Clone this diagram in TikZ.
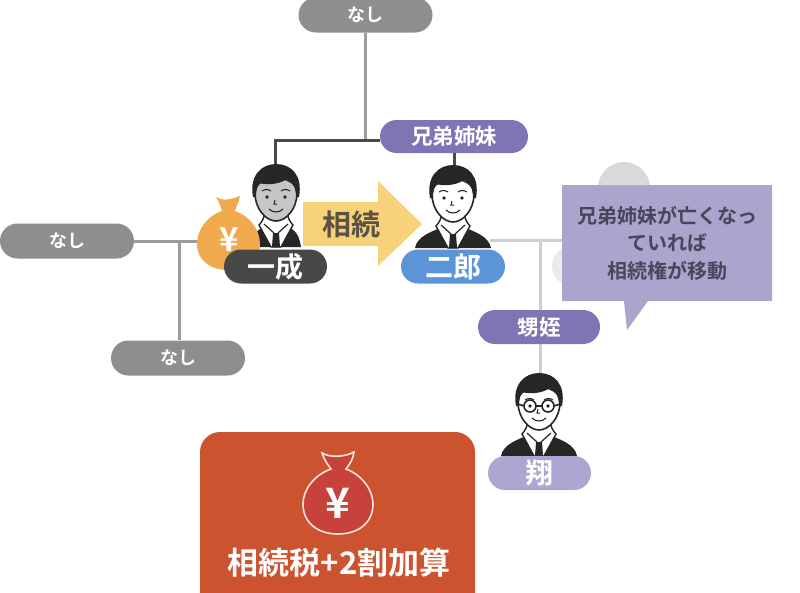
\documentclass[tikz,border=0pt]{standalone}
\usepackage{fontspec}
\setmainfont{Noto Sans CJK JP}[BoldFont={* Bold}]
\usetikzlibrary{shapes.misc}
\definecolor{pillgray}{HTML}{8E8E8E}
\definecolor{pilldark}{HTML}{484848}
\definecolor{pillblue}{HTML}{5B95D8}
\definecolor{pillpurple}{HTML}{7F75B4}
\definecolor{pilllilac}{HTML}{ABA6D2}
\definecolor{calloutfill}{HTML}{ABA4CD}
\definecolor{calloutink}{HTML}{47465C}
\definecolor{arrowyellow}{HTML}{F8D27B}
\definecolor{arrowink}{HTML}{5A5344}
\definecolor{bagorange}{HTML}{F0A94C}
\definecolor{boxred}{HTML}{CC5330}
\definecolor{bagred}{HTML}{C8413A}
\definecolor{bagline}{HTML}{FBE6DC}
\definecolor{linedark}{HTML}{4A4A4A}
\definecolor{linegray}{HTML}{9C9C9C}
\definecolor{linepale}{HTML}{CFCFCF}
\definecolor{hairink}{HTML}{262626}
\definecolor{faceshade}{HTML}{C6C6C6}
\newcommand{\fsz}[1]{\fontsize{#1}{#1}\selectfont}
\tikzset{
  x=1pt,y=-1pt,
  pill/.style={rounded rectangle,inner sep=0pt,text=white,font=\bfseries\fsz{#1}},
  pill/.default=18,
  plainpill/.style={pill=18,minimum height=35pt,minimum width=134pt,fill=pillgray},
  wire/.style={line width=3pt,draw=linegray},
  wirepale/.style={line width=3pt,draw=linepale},
  wiredark/.style={line width=3pt,draw=linedark},
  person/.pic={
    % body
    \fill[hairink] (-\pgfkeysvalueof{/tikz/bodyw},0) .. controls (-\pgfkeysvalueof{/tikz/bodyw}+2,-12) and (-20,-17) .. (-10,-21)
      -- (10,-21) .. controls (20,-17) and (\pgfkeysvalueof{/tikz/bodyw}-2,-12) .. (\pgfkeysvalueof{/tikz/bodyw},0) -- cycle;
    % collar and neck
    \fill[white,draw=hairink,line width=1.4pt] (-11,-37) .. controls (-11,-30) and (-14,-25) .. (-17,-22) -- (-5,0) -- (5,0) -- (17,-22) .. controls (14,-25) and (11,-30) .. (11,-37) -- cycle;
    \fill[hairink] (-3,-14) -- (3,-14) -- (4,0) -- (-4,0) -- cycle;
    \draw[hairink,line width=1.2pt] (-12,-23) -- (-2,-14) (12,-23) -- (2,-14);
    % face
    \fill[\pgfkeysvalueof{/tikz/facecol},draw=hairink,line width=1.6pt] (-21,-54) .. controls (-21,-38) and (-10,-26) .. (0,-26)
      .. controls (10,-26) and (21,-38) .. (21,-54) .. controls (21,-74) and (-21,-74) .. (-21,-54) -- cycle;
    % hair
    \fill[hairink] (-23,-50) .. controls (-27,-72) and (-14,-83) .. (0,-83)
      .. controls (15,-83) and (27,-72) .. (23,-50) -- (20,-50)
      .. controls (20,-60) and (16,-66) .. (11,-68) .. controls (2,-62) and (-10,-62) .. (-17,-64)
      .. controls (-19,-60) and (-20,-56) .. (-20,-50) -- cycle;
    % brows, eyes, mouth
    \draw[hairink,line width=1.1pt] (-14,-56) .. controls (-11,-58) and (-8,-58) .. (-5,-56)
      (14,-56) .. controls (11,-58) and (8,-58) .. (5,-56);
    \fill[hairink] (-9,-50) circle (1.9) (9,-50) circle (1.9);
    \draw[hairink,line width=1.1pt] (-7,-38) .. controls (-3,-34) and (3,-34) .. (7,-38);
    \draw[hairink,line width=1pt] (-1,-47) -- (-2,-43) -- (1,-43);
  },
  glasses/.pic={
    \draw[hairink,line width=1.6pt] (-9,-50) circle (6) (9,-50) circle (6) (-3,-50) -- (3,-50) (-15,-50) -- (-21,-52) (15,-50) -- (21,-52);
  },
  facecol/.initial=white,
  bodyw/.initial=38,
}
\begin{document}
\begin{tikzpicture}
\useasboundingbox (0,0) rectangle (800,592);
\clip (0,0) rectangle (800,592);

% junction points
\coordinate (ichijoin) at (275,140);
\coordinate (ichihead) at (275,168);
\coordinate (jirohead) at (454,168);
\coordinate (leftend) at (198,241);
\coordinate (leftdrop) at (179,241);
\coordinate (jirose) at (490,240);
\coordinate (sibdrop) at (540,240);
\coordinate (sibend) at (600,240);
\coordinate (sonhead) at (540,375);

% pale persons behind the callout
\fill[black!15] (624,188) circle (26);
\fill[black!8] (572,266) circle (20);

% connectors
\draw[wirepale] (jirose) -- (sibend);
\draw[wirepale] (sibdrop) -- (sonhead);

% pills
\node[plainpill] (topnone) at (365.5,15) {なし};
\node[plainpill] (leftnone) at (67,241) {なし};
\node[plainpill] (lownone) at (178,358) {なし};
\node[pill=21.5,minimum width=148pt,minimum height=33pt,fill=pillpurple] (sibs) at (454,136.5) {兄弟姉妹};
\node[pill=21.5,minimum width=122pt,minimum height=34pt,fill=pillpurple] (niece) at (539,327) {甥姪};

\draw[wire] (leftnone.east) -- (leftend);
\draw[wire] (leftdrop) -- (lownone.north -| leftdrop);
\draw[wire] (topnone.south) -- (topnone.south |- ichijoin);
\draw[wiredark] (ichihead) -- (ichijoin) -- (ichijoin -| sibs.west);
\draw[wiredark] (sibs.south) -- (jirohead);

% yellow arrow
\fill[arrowyellow] (303,202) -- (378,202) -- (378,181) -- (422,224) -- (378,266) -- (378,246) -- (303,246) -- cycle;
\node[font=\bfseries\fsz{29},text=arrowink,inner sep=0pt] (inherit) at (351,224) {相続};

% persons
\pic[facecol=faceshade,bodyw=25] at (276,247) {person};
\pic at (453,248) {person};
\pic at (539,456) {person};
\pic at (539,456) {glasses};

% orange money bag
\fill[bagorange] (216,197) .. controls (222,201) and (230,200) .. (240,196)
  .. controls (239,202) and (236,207) .. (235,211)
  .. controls (250,216) and (260,230) .. (260,244)
  .. controls (260,260) and (246,270) .. (228,270)
  .. controls (210,270) and (197,260) .. (197,244)
  .. controls (197,230) and (207,216) .. (222,211)
  .. controls (221,207) and (219,202) .. (216,197) -- cycle;
\node[font=\bfseries\fsz{33},text=white,inner sep=0pt] (yenone) at (229,240) {¥};

% name pills
\node[pill=28,minimum width=103pt,minimum height=34pt,fill=pilldark] (ichi) at (275.5,266.5) {一成};
\node[pill=28,minimum width=104pt,minimum height=34pt,fill=pillblue] (jiro) at (453,266.5) {二郎};
\node[pill=28,minimum width=103pt,minimum height=34pt,fill=pilllilac] (sho) at (539.5,473) {翔};

% callout
\fill[calloutfill] (562,185) -- (772,185) -- (772,301) -- (648,301) -- (627,330) -- (624,301) -- (562,301) -- cycle;
\node[align=center,font=\bfseries\fontsize{20}{27.5}\selectfont,text=calloutink,inner sep=0pt] (note) at (667,243) {兄弟姉妹が亡くなっ\\ていれば\\相続権が移動};

% tax box
\fill[boxred,rounded corners=20pt] (200,432) rectangle (475,620);
\fill[bagred,draw=bagline,line width=1.6pt] (322,453) .. controls (330,458) and (345,457) .. (354,452)
  .. controls (353,459) and (350,464) .. (346,469)
  .. controls (362,475) and (373,490) .. (373,504)
  .. controls (373,523) and (358,534) .. (338,534)
  .. controls (318,534) and (303,523) .. (303,504)
  .. controls (303,490) and (314,475) .. (331,469)
  .. controls (327,464) and (324,459) .. (322,453) -- cycle;
\node[font=\bfseries\fsz{42},text=white,inner sep=0pt] (yentax) at (338,503) {¥};
\node[font=\bfseries\fsz{31},text=white,inner sep=0pt] (taxlabel) at (339,563) {相続税+2割加算};
\end{tikzpicture}
\end{document}
